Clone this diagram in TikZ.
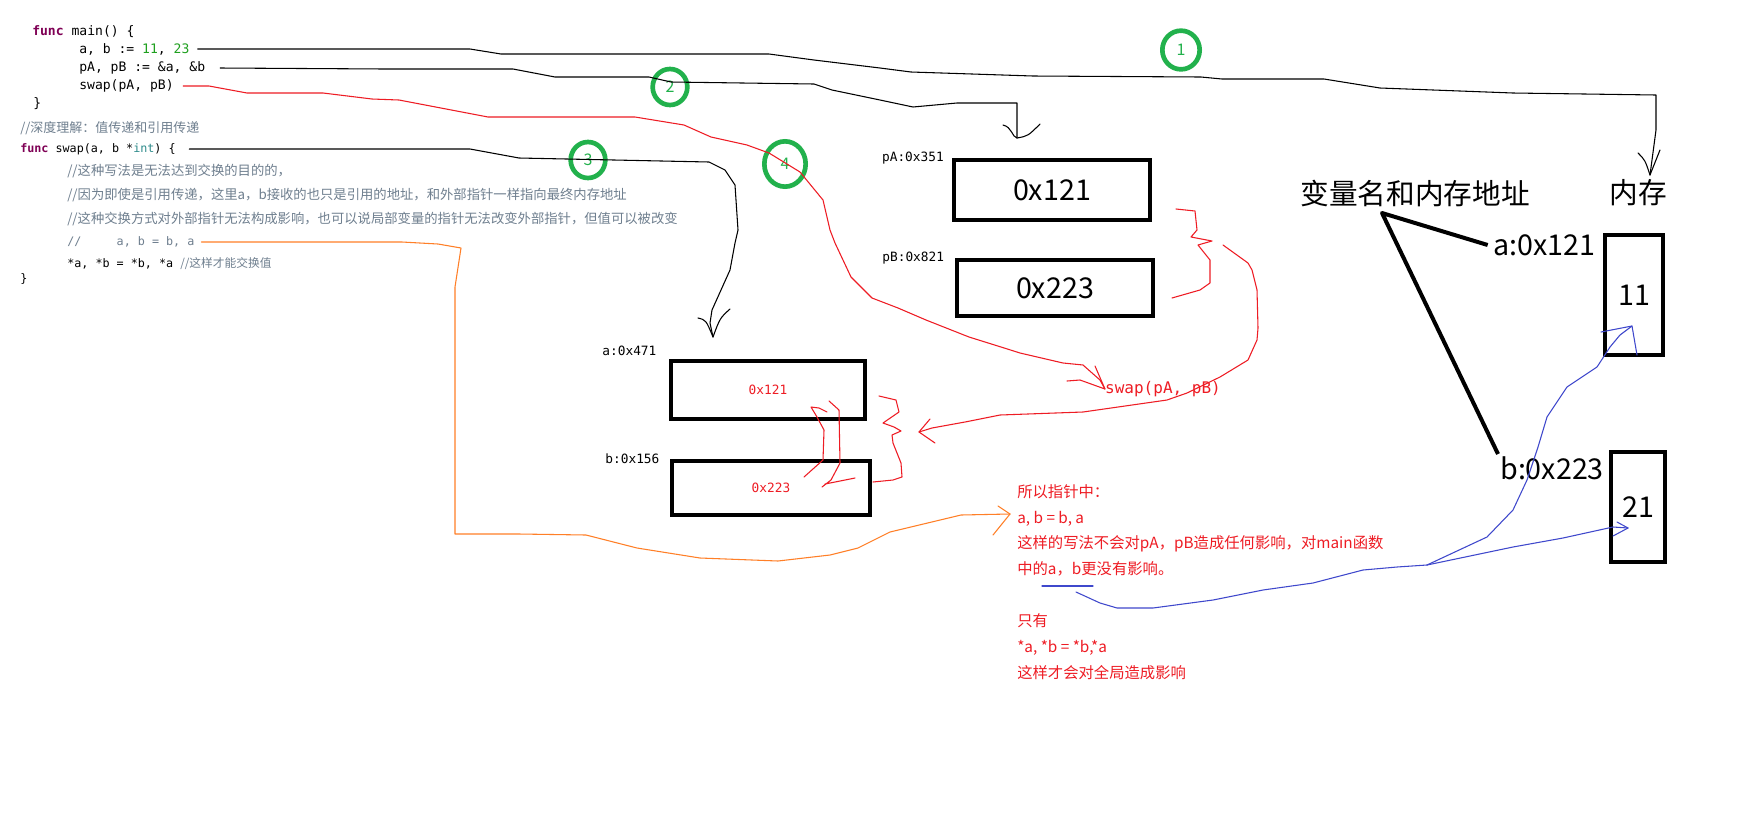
\documentclass[tikz,border=0pt]{standalone}
\usepackage{fontspec}
\usetikzlibrary{positioning,shapes.geometric}
\newfontfamily\cjk{Noto Sans CJK SC}
\newfontfamily\mono{DejaVu Sans Mono}
\definecolor{kw}{HTML}{7F0055}
\definecolor{num}{HTML}{1FA01F}
\definecolor{typ}{HTML}{2E8B8B}
\definecolor{cmt}{HTML}{6F7F8F}
\definecolor{vert}{HTML}{22B14C}
\definecolor{rouge}{HTML}{EE1C24}
\definecolor{orng}{HTML}{FF7F27}
\definecolor{bleu}{HTML}{3F48CC}

\begin{document}
\begin{tikzpicture}[x=0.75pt,y=-0.75pt,
  code/.style={anchor=west,inner sep=0pt,font=\mono\fontsize{9.8}{12}\selectfont},
  code2/.style={anchor=west,inner sep=0pt,font=\mono\fontsize{8.8}{11}\selectfont},
  cmt/.style={anchor=west,inner sep=0pt,text=cmt,font=\cjk\fontsize{10}{12}\selectfont},
  boite/.style={draw,line width=3pt,inner sep=0pt},
  gros/.style={font=\cjk\fontsize{21.5}{26}\selectfont},
  petit/.style={inner sep=0pt,font=\mono\fontsize{9.6}{11}\selectfont},
  rond/.style={draw=vert,line width=3.5pt,ellipse,inner sep=0pt,text=vert,font=\cjk\fontsize{12}{14}\selectfont},
  trait/.style={line width=0.8pt,line join=round,line cap=round}]
\fill[white] (0,0) rectangle (1742,833);
\useasboundingbox (0,0) rectangle (1742,833);

% code
\node[code] (fmain) at (32,32) {\textbf{\textcolor{kw}{func}} main() \{};
\node[code] (ab) at (79,49) {a, b := \textcolor{num}{11}, \textcolor{num}{23}};
\node[code] (pab) at (79,68) {pA, pB := \&a, \&b};
\node[code] (appel) at (79,86) {swap(pA, pB)};
\node[code] (fin1) at (33,104) {\}};
\node[cmt,font=\cjk\fontsize{9.75}{12}\selectfont] (titre) at (20,128) {//深度理解：值传递和引用传递};
\node[code2] (fswap) at (20,149) {\textbf{\textcolor{kw}{func}} swap(a, b *\textcolor{typ}{int}) \{};
\node[cmt] (cm1) at (67,171) {//这种写法是无法达到交换的目的的，};
\node[cmt] (cm2) at (67,195) {//因为即使是引用传递，这里a，b接收的也只是引用的地址，和外部指针一样指向最终内存地址};
\node[cmt] (cm3) at (67,219) {//这种交换方式对外部指针无法构成影响，也可以说局部变量的指针无法改变外部指针，但值可以被改变};
\node[code2,text=cmt] (cm4) at (67,242) {//\ \ \ \ \ a, b = b, a};
\node[code2] (echg) at (67,264) {*a, *b = *b, *a \textcolor{cmt}{\cjk //这样才能交换值}};
\node[code2] (fin2) at (20,279) {\}};

% cases
\node[boite,minimum width=147pt,minimum height=45pt,gros] (pA) at (1052,190) {0x121};
\node[boite,minimum width=147pt,minimum height=42pt,gros] (pB) at (1055,288) {0x223};
\node[boite,minimum width=146pt,minimum height=44pt,petit,text=rouge] (va) at (768,390) {0x121};
\node[boite,minimum width=148pt,minimum height=40.5pt,petit,text=rouge] (vb) at (771,488) {0x223};
\node[boite,minimum width=44pt,minimum height=90pt,gros] (m11) at (1634,295) {11};
\node[boite,minimum width=41pt,minimum height=83pt,gros] (m21) at (1638,507) {21};

\node[petit,left=6pt of pA.north west] (lpA) {pA:0x351};
\node[petit,left=8pt of pB.north west] (lpB) {pB:0x821};
\node[petit,left=9pt of va.north west,yshift=6pt] (lva) {a:0x471};
\node[petit,left=8pt of vb.north west] (lvb) {b:0x156};

% memoire
\node[gros] (vtitre) at (1415,193) {变量名和内存地址};
\node[gros] (mtitre) at (1638,193) {内存};
\node[gros,anchor=west,inner sep=0pt] (na) at (1493,245) {a:0x121};
\node[gros,anchor=west,inner sep=0pt] (nb) at (1500,468) {b:0x223};
\coordinate (vroot) at (1382,213);
\draw[line width=3pt,line join=round] ([xshift=-4pt]na.west) -- (vroot) -- ([shift={(-2,-14)}]nb.west);

% ronds
\node[rond,minimum width=28pt,minimum height=29pt] (r1) at (1181,50) {1};
\node[rond,minimum width=26pt,minimum height=27pt] (r2) at (670,87) {2};
\node[rond,minimum width=26pt,minimum height=27pt] (r3) at (588,160) {3};
\node[rond,minimum width=31pt,minimum height=34pt] (r4) at (785,164) {4};

\node[inner sep=0pt,text=rouge,font=\mono\fontsize{12}{14}\selectfont] (sw) at (1163,389) {swap(pA, pB)};
\node[anchor=north west,inner sep=0pt,align=left,text=rouge,font=\cjk\fontsize{11.5}{19.4}\selectfont] (expl) at (1017,484)
  {所以指针中：\\a, b = b, a\\这样的写法不会对pA，pB造成任何影响，对main函数\\中的a，b更没有影响。\\[19.4pt]只有\\*a, *b = *b,*a\\这样才会对全局造成影响};

% fleche 1
\coordinate (p1) at (1650,175);
\draw[trait] ([xshift=6pt]ab.east) -- (285,49) -- (470,49) -- (501,54) -- (769,54) -- (814,60) -- (880,68) -- (911,72)
  -- (1033,76) -- (1201,77) -- (1222,79) -- (1324,79) -- (1380,88) -- (1513,93) -- (1656,95) -- (1656,130) -- (p1);
\draw[trait] (1638,153) .. controls (1645,160) .. (p1) -- (1660,150);

% fleche 2
\coordinate (p2) at (1017,138);
\draw[trait] ([xshift=11pt]pab.east) -- (385,69) -- (513,69) -- (555,77) -- (649,77) -- (671,82) -- (814,84) -- (832,90)
  -- (880,100) -- (913,107) -- (957,103) -- (1017,103) -- (p2);
\draw[trait] (1003,125) .. controls (1012,127) and (1012,137) .. (p2) .. controls (1028,136) .. (1040,124);

% fleche 3
\coordinate (p3) at (713,337);
\draw[trait] ([xshift=10pt]fswap.east) -- (470,149) -- (519,158) -- (709,162) -- (725,170) -- (735,185) -- (738,230)
  -- (735,243) -- (730,270) -- (712,310) -- (710,323) -- (p3);
\draw[trait] (698,318) .. controls (706,320) .. (p3) .. controls (720,318) .. (730,309);

% fleche 4
\draw[trait,rouge] ([xshift=7pt]appel.east) -- (209,86) -- (247,93) -- (323,93) -- (372,99) -- (399,100) -- (488,117)
  -- (635,117) -- (684,125) -- (711,137) -- (747,145) -- (769,153) -- (800,172) -- (823,200) -- (830,230) -- (835,243)
  -- (851,277) -- (872,298) -- (898,308) -- (926,320) -- (969,337) -- (1001,347) -- (1020,353) -- (1063,363)
  -- (1083,365) -- (1100,380) -- (sw.west);
\draw[trait,rouge] (1095,366) -- (sw.west) (1067,381) -- (1080,380) -- (sw.west);

% accolades
\coordinate (acc2) at (919,432);
\draw[trait,rouge] (1176,209) -- (1195,211) -- (1197,230) -- (1191,237) -- (1212,241) -- (1198,245) -- (1210,260)
  -- (1210,283) -- (1200,290) -- (1172,298);
\draw[trait,rouge] (1223,245) -- (1248,263) -- (1252,270) -- (1257,290) -- (1258,328) -- (1257,340) -- (1248,360)
  -- (1220,377) -- (1187,393) -- (1167,400) -- (1083,412) -- (1000,415) -- (965,422) -- (932,428) -- (acc2);
\draw[trait,rouge] (930,419) -- (acc2) -- (935,443);
\draw[trait,rouge] (879,396) -- (896,400) -- (899,412) -- (883,423) -- (894,427) -- (901,431) -- (892,435) -- (893,443)
  -- (901,463) -- (902,477) -- (893,480) -- (873,482);
\draw[trait,rouge] (804,477) -- (823,460) -- (824,430) -- (817,417) -- (811,407) -- (819,408) -- (827,412);
\draw[trait,rouge] (829,401) -- (839,410) -- (840,463) -- (831,480) -- (822,487) (855,478) -- (825,484);

% orange
\coordinate (o2) at (1010,514);
\draw[trait,orng] ([xshift=5pt]cm4.east) -- (402,242) -- (438,244) -- (461,248) -- (455,287) -- (455,534) -- (519,534)
  -- (586,535) -- (637,548) -- (700,558) -- (778,561) -- (830,555) -- (858,548) -- (890,532) -- (961,515) -- (o2);
\draw[trait,orng] (998,506) -- (o2) -- (993,535);

% bleu
\coordinate (b11) at (1632,326);
\coordinate (b21) at (1628,528);
\coordinate (bj) at (1427,565);
\draw[trait,bleu] (1042,586) -- (1093,586);
\draw[trait,bleu] (1076,592) -- (1100,603) -- (1117,608) -- (1153,608) -- (1213,600) -- (1263,590) -- (1313,583)
  -- (1363,570) -- (1397,567) -- (bj);
\draw[trait,bleu] (bj) -- (1513,547) -- (1563,538) -- (1613,527) -- (b21);
\draw[trait,bleu] (1617,522) -- (b21) -- (1613,536);
\draw[trait,bleu] (bj) -- (1487,537) -- (1513,510) -- (1527,480) -- (1538,447) -- (1547,417) -- (1567,387)
  -- (1597,367) -- (1610,347) -- (1620,335) -- (b11);
\draw[trait,bleu] (1601,332) -- (b11) -- (1637,355);
\end{tikzpicture}
\end{document}
